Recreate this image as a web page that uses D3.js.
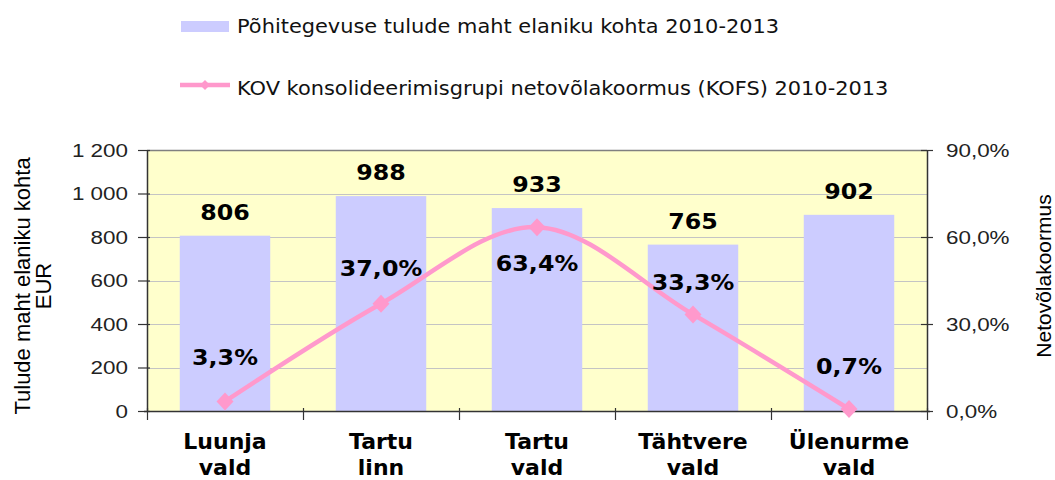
<!DOCTYPE html>
<html>
<head>
<meta charset="utf-8">
<script src="https://cdn.jsdelivr.net/npm/d3@7"></script>
<style>
  html, body { margin: 0; padding: 0; background: #ffffff; }
  svg { display: block; }
</style>
</head>
<body>
<svg id="chart" width="1055" height="480"></svg>
<script>
// ---- data ----
const categories = [["Luunja", "vald"], ["Tartu", "linn"], ["Tartu", "vald"], ["Tähtvere", "vald"], ["Ülenurme", "vald"]];
const revenue = [806, 988, 933, 765, 902];
const debtLoad = [3.3, 37.0, 63.4, 33.3, 0.7];
const leftTicks = [0, 200, 400, 600, 800, 1000, 1200];
const leftTickLabels = ["0", "200", "400", "600", "800", "1 000", "1 200"];
const rightTicks = [0, 30, 60, 90];
const rightTickLabels = ["0,0%", "30,0%", "60,0%", "90,0%"];
const pctLabels = ["3,3%", "37,0%", "63,4%", "33,3%", "0,7%"];
const pctLabelOffset = [-44, -36, 36, -32, -43]; // label centre offset from point (layout)
const seriesNames = ["Põhitegevuse tulude maht elaniku kohta 2010-2013",
                     "KOV konsolideerimisgrupi netovõlakoormus (KOFS) 2010-2013"];

// ---- layout ----
const W = 1055, H = 480;
const plot = { left: 147, right: 927, top: 150, bottom: 411 };
const svg = d3.select("#chart");

const keys = categories.map((c, i) => i);
const x = d3.scaleBand().domain(keys).range([plot.left, plot.right])
  .paddingInner(0.42).paddingOuter(0.21);
const yL = d3.scaleLinear().domain([0, 1200]).range([plot.bottom, plot.top]);
const yR = d3.scaleLinear().domain([0, 90]).range([plot.bottom, plot.top]);

const BAR = "#CCCCFF", BG = "#FFFFCC", LINE = "#FF99CC";
const SX = 1.08; // horizontal stretch of bold labels

// plot background
svg.append("rect")
  .attr("x", plot.left).attr("y", plot.top)
  .attr("width", plot.right - plot.left).attr("height", plot.bottom - plot.top)
  .attr("fill", BG);

// gridlines
svg.append("g").selectAll("line").data(leftTicks.filter(t => t > 0 && t < 1200)).join("line")
  .attr("x1", plot.left).attr("x2", plot.right)
  .attr("y1", d => Math.round(yL(d)) + 0.5).attr("y2", d => Math.round(yL(d)) + 0.5)
  .attr("stroke", "#C4C4C4").attr("stroke-width", 1.2);

// top border
svg.append("line")
  .attr("x1", plot.left).attr("x2", plot.right)
  .attr("y1", plot.top + 0.5).attr("y2", plot.top + 0.5)
  .attr("stroke", "#808080").attr("stroke-width", 1.5);

// bars
svg.append("g").selectAll("rect").data(revenue).join("rect")
  .attr("x", (d, i) => x(i)).attr("width", x.bandwidth())
  .attr("y", d => yL(d)).attr("height", d => yL(0) - yL(d))
  .attr("fill", BAR);

// left axis
const axL = d3.axisLeft(yL).tickValues(leftTicks)
  .tickFormat((d, i) => leftTickLabels[i]).tickSizeInner(9).tickSizeOuter(0).tickPadding(19);
const gL = svg.append("g").attr("transform", `translate(${plot.left},0)`).call(axL);
gL.select(".domain").attr("stroke", "#333").attr("stroke-width", 1.5);
gL.selectAll(".tick line").attr("x1", 3).attr("stroke", "#333").attr("stroke-width", 1.2);
gL.selectAll(".tick text")
  .attr("font-family", "'Liberation Sans', Arial, sans-serif").attr("font-size", 19)
  .attr("fill", "#222").attr("x", -19 / 1.18).attr("transform", "scale(1.18,1)");

// right axis
const axR = d3.axisRight(yR).tickValues(rightTicks)
  .tickFormat((d, i) => rightTickLabels[i]).tickSizeInner(6).tickSizeOuter(0).tickPadding(13);
const gR = svg.append("g").attr("transform", `translate(${plot.right},0)`).call(axR);
gR.select(".domain").attr("stroke", "#333").attr("stroke-width", 1.5);
gR.selectAll(".tick line").attr("x1", -6).attr("stroke", "#333").attr("stroke-width", 1.2);
gR.selectAll(".tick text")
  .attr("font-family", "'Liberation Sans', Arial, sans-serif").attr("font-size", 19)
  .attr("fill", "#222").attr("x", 19 / 1.18).attr("transform", "scale(1.18,1)");

// bottom axis
svg.append("line")
  .attr("x1", plot.left - 3).attr("x2", plot.right + 3)
  .attr("y1", plot.bottom + 0.5).attr("y2", plot.bottom + 0.5)
  .attr("stroke", "#333").attr("stroke-width", 1.5);
const boundaries = d3.range(keys.length + 1).map(i => plot.left + i * x.step());
svg.append("g").selectAll("line").data(boundaries).join("line")
  .attr("x1", d => Math.round(d) + 0.5).attr("x2", d => Math.round(d) + 0.5)
  .attr("y1", plot.bottom - 3).attr("y2", plot.bottom + 9)
  .attr("stroke", "#333").attr("stroke-width", 1.2);

// category labels
const cat = svg.append("g").selectAll("text").data(categories).join("text")
  .attr("text-anchor", "middle")
  .attr("font-family", "'DejaVu Sans', Verdana, sans-serif").attr("font-weight", "bold")
  .attr("font-size", 22).attr("fill", "#000");
cat.append("tspan").attr("x", (d, i) => x(i) + x.bandwidth() / 2).attr("y", 449).text(d => d[0]);
cat.append("tspan").attr("x", (d, i) => x(i) + x.bandwidth() / 2).attr("y", 475).text(d => d[1]);

// line
const pts = debtLoad.map((v, i) => [x(i) + x.bandwidth() / 2, yR(v)]);
svg.append("path")
  .attr("d", d3.line().curve(d3.curveCardinal.tension(0))(pts))
  .attr("fill", "none").attr("stroke", LINE).attr("stroke-width", 4.5)
  .attr("stroke-linejoin", "round");

// diamond markers
const diamond = (cx, cy, w, h) => `M${cx},${cy - h}L${cx + w},${cy}L${cx},${cy + h}L${cx - w},${cy}Z`;
svg.append("g").selectAll("path").data(pts).join("path")
  .attr("d", d => diamond(d[0], d[1], 8.5, 9)).attr("fill", LINE);

// bar value labels
svg.append("g").selectAll("text").data(revenue).join("text")
  .attr("transform", (d, i) => `translate(${x(i) + x.bandwidth() / 2},${yL(d) - 16}) scale(${SX},1)`)
  .attr("text-anchor", "middle")
  .attr("font-family", "'DejaVu Sans', Verdana, sans-serif").attr("font-weight", "bold")
  .attr("font-size", 22).attr("fill", "#000")
  .text(d => d);

// percent labels
svg.append("g").selectAll("text").data(debtLoad).join("text")
  .attr("transform", (d, i) => `translate(${x(i) + x.bandwidth() / 2},${yR(d) + pctLabelOffset[i] + 8}) scale(${SX},1)`)
  .attr("text-anchor", "middle")
  .attr("font-family", "'DejaVu Sans', Verdana, sans-serif").attr("font-weight", "bold")
  .attr("font-size", 22).attr("fill", "#000")
  .text((d, i) => pctLabels[i]);

// axis titles
const titleFont = "'Liberation Sans', Arial, sans-serif";
svg.append("text")
  .attr("transform", `translate(22,286) rotate(-90)`)
  .attr("text-anchor", "middle").attr("dominant-baseline", "central")
  .attr("font-family", titleFont).attr("font-size", 22).attr("fill", "#000")
  .text("Tulude maht elaniku kohta");
svg.append("text")
  .attr("transform", `translate(43,286) rotate(-90)`)
  .attr("text-anchor", "middle").attr("dominant-baseline", "central")
  .attr("font-family", titleFont).attr("font-size", 22).attr("fill", "#000")
  .text("EUR");
svg.append("text")
  .attr("transform", `translate(1043,276) rotate(-90)`)
  .attr("text-anchor", "middle").attr("dominant-baseline", "central")
  .attr("font-family", titleFont).attr("font-size", 21).attr("fill", "#000")
  .text("Netovõlakoormus");

// legend
const lg = svg.append("g").attr("font-family", "'DejaVu Sans', Verdana, sans-serif")
  .attr("font-size", 19).attr("fill", "#111");
lg.append("rect").attr("x", 181).attr("y", 21).attr("width", 48).attr("height", 11).attr("fill", BAR);
lg.append("text").attr("transform", "translate(237,33) scale(1.1,1)").text(seriesNames[0]);
lg.append("line").attr("x1", 180).attr("x2", 230).attr("y1", 85).attr("y2", 85)
  .attr("stroke", LINE).attr("stroke-width", 4.5);
lg.append("path").attr("d", diamond(205, 85, 5, 5)).attr("fill", LINE);
lg.append("text").attr("transform", "translate(237,95) scale(1.1,1)").text(seriesNames[1]);
</script>
</body>
</html>
